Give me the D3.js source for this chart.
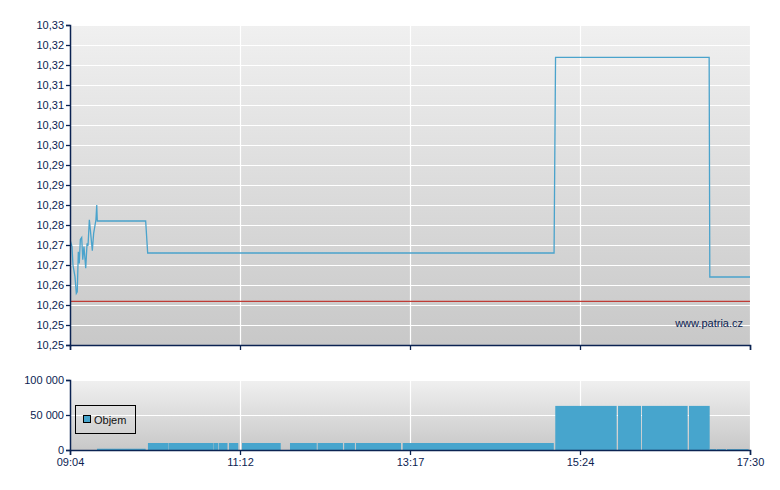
<!DOCTYPE html>
<html>
<head>
<meta charset="utf-8">
<script src="https://cdn.jsdelivr.net/npm/d3@7"></script>
<style>
  html, body { margin: 0; padding: 0; background: #ffffff; }
  svg { display: block; }
  text { font-family: "Liberation Sans", Arial, sans-serif; font-size: 11px; }
</style>
</head>
<body>
<svg id="chart" width="780" height="490"></svg>
<script>
// ---------- DATA ----------
const priceTimes = ["09:04:12","09:05:30","09:06:12","09:07:42","09:08:42","09:09:24","09:10:12","09:10:54",
  "09:11:42","09:12:42","09:13:30","09:14:24","09:15:42","09:16:42","09:17:24","09:18:24","09:19:06",
  "09:20:36","09:21:36","09:23:18","09:23:54","09:24:18","10:00:18","10:01:48","15:04:12","15:05:18",
  "16:59:36","17:00:06","17:30:00"];
const priceValues = [10.2761,10.2746,10.2700,10.2671,10.2629,10.2633,10.2733,10.2704,
  10.2764,10.2769,10.2713,10.2746,10.2692,10.2754,10.2748,10.2813,10.2789,
  10.2736,10.2779,10.2813,10.2850,10.2810,10.2810,10.2730,10.2730,10.3219,
  10.3219,10.2670,10.2670];
const previousClose = 10.2609;

const volumeStarts = ["09:24:06","10:02:00","10:17:18","10:51:00","10:54:54","11:02:18","11:12:00","11:47:42",
  "12:08:18","12:28:00","12:36:48","13:11:36","15:05:06","15:51:48","16:09:36","16:44:36","17:00:12",
  "17:05:12","17:12:54"];
const volumeEnds = ["10:00:18","10:17:06","10:50:48","10:54:24","11:01:12","11:09:12","11:40:48","12:07:36",
  "12:27:06","12:36:00","13:10:18","15:04:00","15:50:48","16:08:54","16:43:36","17:00:00","17:04:42",
  "17:12:06","17:29:00"];
const volumeValues = [1800,10000,10000,10000,10000,10000,10000,10000,
  10000,10000,10000,10000,63000,63000,63000,63000,1200,
  1200,1200];

const timeDomain = ["09:04:00","17:30:00"];
const timeTickLabels = ["09:04","11:12","13:17","15:24","17:30"];
const priceTicks = [10.25,10.255,10.26,10.265,10.27,10.275,10.28,10.285,10.29,10.295,10.30,10.305,10.31,10.315,10.32,10.325,10.33];
const priceTickLabels = ["10,25","10,25","10,26","10,26","10,27","10,27","10,28","10,28","10,29","10,29","10,30","10,30","10,31","10,31","10,32","10,32","10,33"];
const volumeTicks = [0,50000,100000];
const volumeTickLabels = ["0","50 000","100 000"];
const legendLabel = "Objem";
const watermark = "www.patria.cz";

// ---------- SETUP ----------
const parseT = d3.timeParse("%H:%M:%S");
const svg = d3.select("#chart");
const navy = "#0b2352";
const L = 70, R = 750;
const pTop = 25, pBot = 345;
const vTop = 380, vBot = 450;

const x = d3.scaleTime().domain(timeDomain.map(parseT)).range([L, R]);
const yP = d3.scaleLinear().domain([10.25, 10.33]).range([pBot, pTop]);
const yV = d3.scaleLinear().domain([0, 100000]).range([vBot, vTop]);

const d0 = x.domain()[0].getTime(), d1 = x.domain()[1].getTime();
const xTickVals = timeTickLabels.map((_, i) => new Date(d0 + i * (d1 - d0) / (timeTickLabels.length - 1)));

const defs = svg.append("defs");
function grad(id) {
  const g = defs.append("linearGradient").attr("id", id).attr("x1", 0).attr("y1", 0).attr("x2", 0).attr("y2", 1);
  g.append("stop").attr("offset", "0%").attr("stop-color", "#f0f0f0");
  g.append("stop").attr("offset", "100%").attr("stop-color", "#c8c8c8");
}
grad("gP"); grad("gV");

// ---------- PRICE PANEL ----------
svg.append("rect").attr("x", L).attr("y", pTop).attr("width", R - L).attr("height", pBot - pTop).attr("fill", "url(#gP)");
const gridP = svg.append("g").attr("stroke", "#ffffff").attr("stroke-width", 1.2);
gridP.selectAll("line.h").data(priceTicks).join("line")
  .attr("x1", L).attr("x2", R).attr("y1", d => Math.round(yP(d)) + 0.5).attr("y2", d => Math.round(yP(d)) + 0.5);
gridP.selectAll("line.v").data(xTickVals.slice(1)).join("line")
  .attr("y1", pTop).attr("y2", pBot).attr("x1", d => Math.round(x(d)) + 0.5).attr("x2", d => Math.round(x(d)) + 0.5);

svg.append("line").attr("x1", L).attr("x2", R)
  .attr("y1", yP(previousClose)).attr("y2", yP(previousClose))
  .attr("stroke", "#bf3b35").attr("stroke-width", 1.2);

const priceData = priceTimes.map((t, i) => ({ t: parseT(t), v: priceValues[i] }));
svg.append("path").datum(priceData)
  .attr("fill", "none").attr("stroke", "#4aa3cc").attr("stroke-width", 1.3)
  .attr("d", d3.line().x(d => x(d.t)).y(d => yP(d.v)));

svg.append("text").attr("x", 743).attr("y", 327).attr("text-anchor", "end")
  .attr("fill", navy).text(watermark);

const axPL = svg.append("g").attr("transform", `translate(${L},0)`)
  .call(d3.axisLeft(yP).tickValues(priceTicks).tickSize(4).tickPadding(2)
    .tickFormat((d, i) => priceTickLabels[i]));
const axPB = svg.append("g").attr("transform", `translate(0,${pBot})`)
  .call(d3.axisBottom(x).tickValues(xTickVals).tickSize(5).tickFormat(() => ""));

// ---------- VOLUME PANEL ----------
svg.append("rect").attr("x", L).attr("y", vTop).attr("width", R - L).attr("height", vBot - vTop).attr("fill", "url(#gV)");
const gridV = svg.append("g").attr("stroke", "#ffffff").attr("stroke-width", 1.2);
gridV.selectAll("line.h").data(volumeTicks.slice(1)).join("line")
  .attr("x1", L).attr("x2", R).attr("y1", d => Math.round(yV(d)) + 0.5).attr("y2", d => Math.round(yV(d)) + 0.5);
gridV.selectAll("line.v").data(xTickVals.slice(1)).join("line")
  .attr("y1", vTop).attr("y2", vBot).attr("x1", d => Math.round(x(d)) + 0.5).attr("x2", d => Math.round(x(d)) + 0.5);

const volData = volumeValues.map((v, i) => ({ s: parseT(volumeStarts[i]), e: parseT(volumeEnds[i]), v }));
svg.append("g").selectAll("rect").data(volData).join("rect")
  .attr("x", d => x(d.s)).attr("width", d => x(d.e) - x(d.s))
  .attr("y", d => yV(d.v)).attr("height", d => yV(0) - yV(d.v))
  .attr("fill", "#47a5cd");

const axVL = svg.append("g").attr("transform", `translate(${L},0)`)
  .call(d3.axisLeft(yV).tickValues(volumeTicks).tickSize(4).tickPadding(2)
    .tickFormat((d, i) => volumeTickLabels[i]));
const axVB = svg.append("g").attr("transform", `translate(0,${vBot})`)
  .call(d3.axisBottom(x).tickValues(xTickVals).tickSize(5).tickPadding(3)
    .tickFormat((d, i) => timeTickLabels[i]));

[axPL, axPB, axVL, axVB].forEach(a => {
  a.select(".domain").attr("stroke", navy).attr("stroke-width", 1.5);
  a.selectAll(".tick line").attr("stroke", navy).attr("stroke-width", 1.3);
  a.selectAll("text").attr("fill", navy)
    .style("font-family", '"Liberation Sans", Arial, sans-serif').style("font-size", "11px");
});

// ---------- LEGEND ----------
const lg = svg.append("g");
lg.append("rect").attr("x", 75.5).attr("y", 405.5).attr("width", 60).attr("height", 28)
  .attr("fill", "none").attr("stroke", "#000").attr("stroke-width", 1);
lg.append("rect").attr("x", 83.5).attr("y", 415.5).attr("width", 7).attr("height", 7)
  .attr("fill", "#47a5cd").attr("stroke", "#000").attr("stroke-width", 1);
lg.append("text").attr("x", 94).attr("y", 424).attr("fill", "#111").text(legendLabel);
</script>
</body>
</html>
